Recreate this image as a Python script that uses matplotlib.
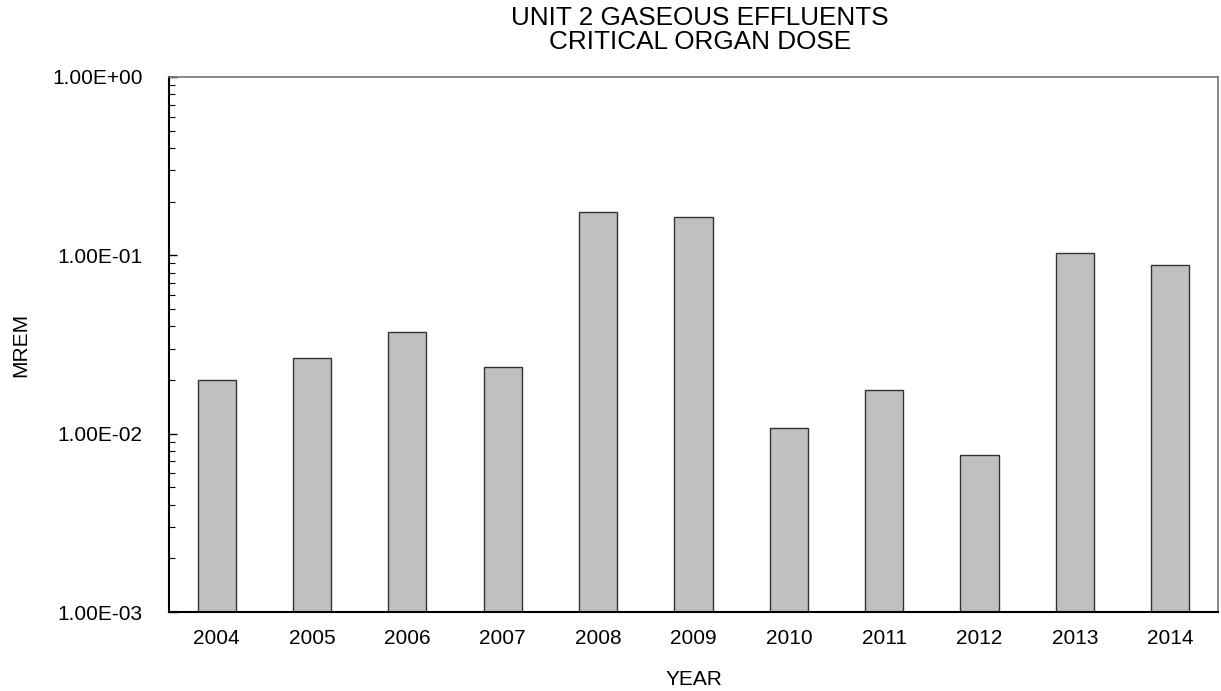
import matplotlib
matplotlib.use("Agg")
import matplotlib.pyplot as plt
import numpy as np
from matplotlib.ticker import FixedLocator, LogLocator, NullFormatter

plt.rcParams['font.family'] = ['Liberation Sans', 'DejaVu Sans']

# data
years = ['2004', '2005', '2006', '2007', '2008', '2009', '2010', '2011', '2012', '2013', '2014']
dose = [0.0199, 0.0264, 0.0373, 0.0238, 0.175, 0.164, 0.0108, 0.0175, 0.00757, 0.103, 0.0885]
yticks = [1e-3, 1e-2, 1e-1, 1e0]
ylabels = ['1.00E-03', '1.00E-02', '1.00E-01', '1.00E+00']

fig = plt.figure(figsize=(12.21, 6.91), dpi=100)
ax = fig.add_axes([0.1384, 0.1143, 0.8591, 0.7743])

ax.set_yscale('log')
x = np.arange(len(years))
ax.bar(x, dose, width=0.4, color='#c0c0c0', edgecolor='#333333', linewidth=1.0)

ax.set_ylim(1e-3, 1e0)
ax.set_xlim(-0.5, len(years) - 0.5)
ax.yaxis.set_major_locator(FixedLocator(yticks))
ax.set_yticklabels(ylabels)
ax.yaxis.set_minor_locator(LogLocator(base=10, subs=np.arange(2, 10)))
ax.yaxis.set_minor_formatter(NullFormatter())
ax.set_xticks(x)
ax.set_xticklabels(years)

ax.tick_params(axis='y', which='major', direction='in', length=6, width=1, labelsize=15, pad=19)
ax.tick_params(axis='y', which='minor', direction='in', length=4, width=0.8)
ax.tick_params(axis='x', which='major', length=0, labelsize=15, pad=12)

for s in ['left', 'bottom']:
    ax.spines[s].set_color('black')
    ax.spines[s].set_linewidth(1.5)
for s in ['top', 'right']:
    ax.spines[s].set_color('#777777')
    ax.spines[s].set_linewidth(1.2)

ax.set_xlabel('YEAR', fontsize=15, labelpad=16)
ax.set_ylabel('MREM', fontsize=15, labelpad=16)
ax.set_title('UNIT 2 GASEOUS EFFLUENTS\nCRITICAL ORGAN DOSE', fontsize=18.8, pad=20,
             linespacing=1.02, x=0.506)

fig.savefig('out.png', dpi=100)
